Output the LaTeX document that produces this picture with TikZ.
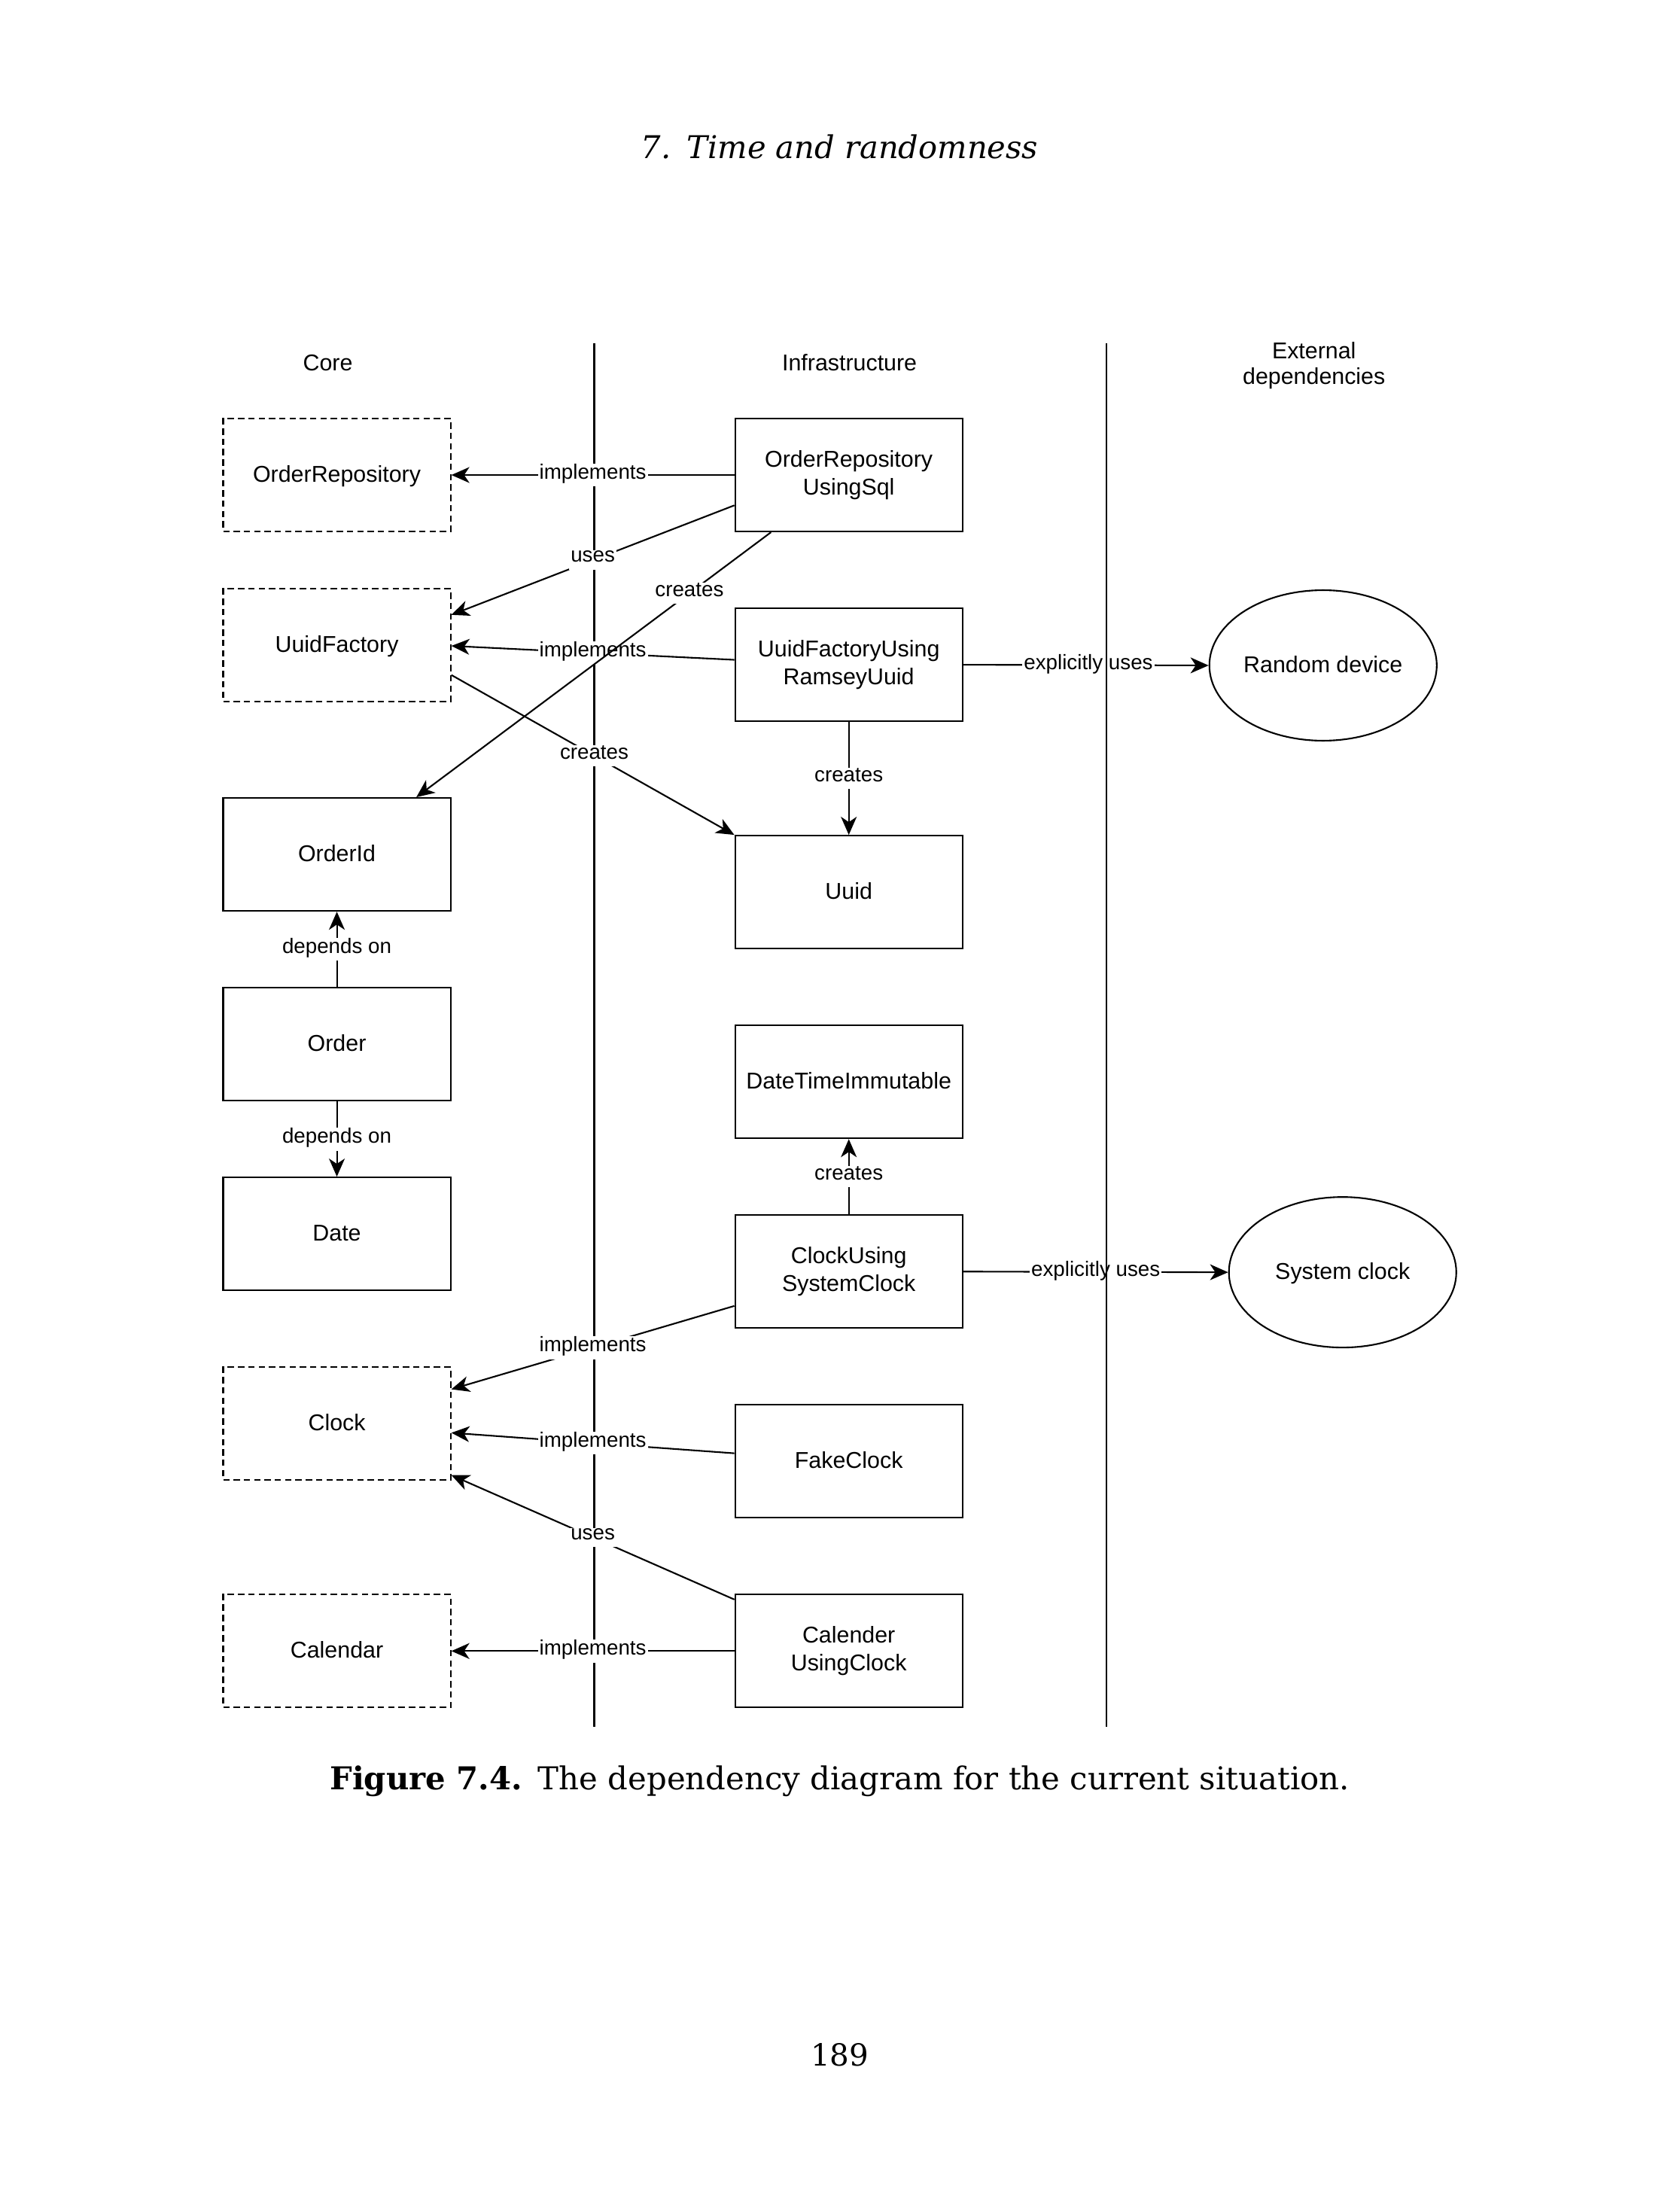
\documentclass[tikz,border=0pt]{standalone}
\usepackage{fontspec}
\setmainfont{DejaVu Serif}
\newfontfamily\dia{Liberation Sans}
\usetikzlibrary{arrows.meta,calc,shapes.geometric}
\newcommand{\boxstrut}{\rule[-1.8pt]{0pt}{9pt}}
\newcommand{\lblstrut}{\rule[-2.6pt]{0pt}{6.6pt}}
\begin{document}
\begin{tikzpicture}[x=0.018538cm,y=-0.018532cm,
  txt/.style={execute at begin node=\boxstrut, execute at end node=\boxstrut},
  box/.style={draw, txt, line width=0.6pt, minimum width=3.022cm, minimum height=1.501cm, inner sep=0pt, align=center, font=\dia\fontsize{8.65}{10.4}\selectfont},
  ibox/.style={box, dash pattern=on 2.4pt off 1.5pt},
  ext/.style={ellipse, draw, txt, line width=0.6pt, minimum width=3.022cm, minimum height=2.0cm, inner sep=0pt, align=center, font=\dia\fontsize{8.65}{10.4}\selectfont},
  arr/.style={line width=0.6pt, -{Stealth[length=2.4mm,width=2.1mm,inset=0.7mm]}},
  lbl/.style={fill=white, inner xsep=0.6pt, inner ysep=0.2pt, execute at begin node=\lblstrut, font=\dia\fontsize{7.9}{9.2}\selectfont},
  sep/.style={line width=0.6pt},
  hdr/.style={font=\dia\fontsize{8.65}{9.8}\selectfont, align=center}
]
\useasboundingbox (0,0) rectangle (1204,1567);

% page text
\node[font=\fontsize{11.85}{14}\selectfont\itshape] (title) at (602,105) {7.\enspace Time and randomness};
\node[font=\fontsize{11.9}{14}\selectfont] (caption) at (602,1277) {\textbf{Figure 7.4.}\enspace The dependency diagram for the current situation.};
\node[font=\fontsize{11.5}{14}\selectfont] (pagenum) at (602,1473) {189};

% left separator
\coordinate (s1top) at (426,246);
\coordinate (s1bot) at (426,1238);
\draw[sep] (s1top) -- (s1bot);

% headers
\node[hdr] (hcore) at (235,260) {Core};
\node[hdr] (hinfra) at (609,260) {Infrastructure};
\node[hdr] (hext) at (942,262) {External\\dependencies};

% core column
\node[ibox] (or)  at (241.5,340.5) {OrderRepository};
\node[ibox] (uf)  at (241.5,462.5) {UuidFactory};
\node[box]  (oid) at (241.5,612.5) {OrderId};
\node[box]  (ord) at (241.5,748.5) {Order};
\node[box]  (dt)  at (241.5,884.5) {Date};
\node[ibox] (clk) at (241.5,1020.5) {Clock};
\node[ibox] (cal) at (241.5,1183.5) {Calendar};

% infrastructure column
\node[box] (ors) at (608.5,340.5) {OrderRepository\\UsingSql};
\node[box] (ufr) at (608.5,476.5) {UuidFactoryUsing\\RamseyUuid};
\node[box] (uu)  at (608.5,639.5) {Uuid};
\node[box] (dti) at (608.5,775.5) {DateTimeImmutable};
\node[box] (csc) at (608.5,911.5) {ClockUsing\\SystemClock};
\node[box] (fc)  at (608.5,1047.5) {FakeClock};
\node[box] (cuc) at (608.5,1183.5) {Calender\\UsingClock};

% external
\node[ext] (rd) at (948.5,477) {Random device};
\node[ext] (sc) at (962.5,912) {System clock};

% connectors
\draw[arr] (ors.west) -- node[lbl]{implements} (or.east);
\draw[arr] ($(ors.north west)!0.765!(ors.south west)$) -- node[lbl]{uses} ($(uf.north east)!0.235!(uf.south east)$);
\draw[arr] ($(ufr.north west)!0.457!(ufr.south west)$) -- node[lbl]{implements} ($(uf.north east)!0.506!(uf.south east)$);
\draw[arr] ($(ors.south west)!0.16!(ors.south east)$) -- node[lbl,pos=0.23]{creates} ($(oid.north west)!0.847!(oid.north east)$);
\draw[arr] ($(uf.north east)!0.76!(uf.south east)$) -- node[lbl,pos=0.505]{creates} (uu.north west);
\draw[arr] (ufr.south) -- node[lbl]{creates} (uu.north);
\draw[arr] (ufr.east) -- node[lbl,pos=0.51]{explicitly uses} (rd.west);
\draw[arr] (ord.north) -- node[lbl]{depends on} (oid.south);
\draw[arr] (ord.south) -- node[lbl]{depends on} (dt.north);
\draw[arr] (csc.north) -- node[lbl]{creates} (dti.south);
\draw[arr] (csc.east) -- node[lbl]{explicitly uses} (sc.west);
\draw[arr] ($(csc.north west)!0.80!(csc.south west)$) -- node[lbl]{implements} ($(clk.north east)!0.2!(clk.south east)$);
\draw[arr] ($(fc.north west)!0.43!(fc.south west)$) -- node[lbl]{implements} ($(clk.north east)!0.58!(clk.south east)$);
\draw[arr] ($(cuc.north west)!0.05!(cuc.south west)$) -- node[lbl]{uses} ($(clk.north east)!0.95!(clk.south east)$);
\draw[arr] (cuc.west) -- node[lbl]{implements} (cal.east);

% right separator
\coordinate (s2top) at (793,246);
\coordinate (s2bot) at (793,1238);
\draw[sep] (s2top) -- (s2bot);
\end{tikzpicture}
\end{document}
